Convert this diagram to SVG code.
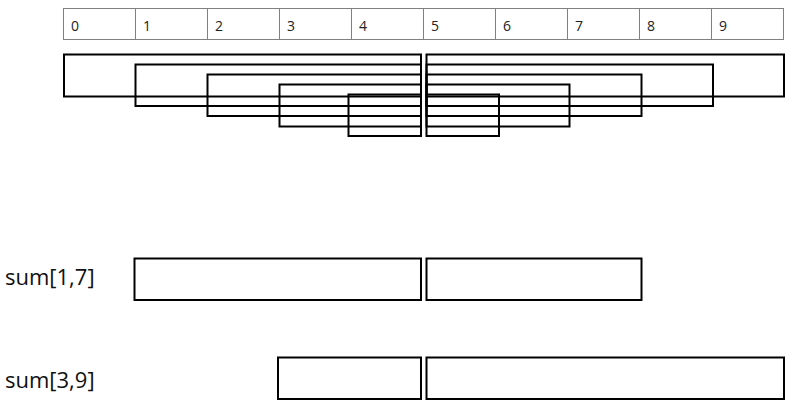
<svg xmlns="http://www.w3.org/2000/svg" width="802" height="408" viewBox="0 0 802 408">
<style>
.cell{fill:#fff;stroke:#808080;stroke-width:1}
.idx{font-family:"Open Sans","Liberation Sans",sans-serif;font-size:14px;fill:#222}
.bx{fill:none;stroke:#000;stroke-width:2}
.sb{fill:#fff;stroke:#000;stroke-width:2}
.lbl{font-family:"Open Sans","Liberation Sans",sans-serif;font-size:22px;fill:#111}
</style>
<rect width="802" height="408" fill="#fff"/>
<g id="array">
<rect class="cell" x="63.5" y="8.5" width="72" height="31"/>
<rect class="cell" x="135.5" y="8.5" width="72" height="31"/>
<rect class="cell" x="207.5" y="8.5" width="72" height="31"/>
<rect class="cell" x="279.5" y="8.5" width="72" height="31"/>
<rect class="cell" x="351.5" y="8.5" width="72" height="31"/>
<rect class="cell" x="423.5" y="8.5" width="72" height="31"/>
<rect class="cell" x="495.5" y="8.5" width="72" height="31"/>
<rect class="cell" x="567.5" y="8.5" width="72" height="31"/>
<rect class="cell" x="639.5" y="8.5" width="72" height="31"/>
<rect class="cell" x="711.5" y="8.5" width="72" height="31"/>
<text class="idx" x="71" y="31">0</text>
<text class="idx" x="143" y="31">1</text>
<text class="idx" x="215" y="31">2</text>
<text class="idx" x="287" y="31">3</text>
<text class="idx" x="359" y="31">4</text>
<text class="idx" x="431" y="31">5</text>
<text class="idx" x="503" y="31">6</text>
<text class="idx" x="575" y="31">7</text>
<text class="idx" x="647" y="31">8</text>
<text class="idx" x="719" y="31">9</text>
</g>
<g id="left-blocks">
<rect class="bx" x="64" y="54.5" width="357" height="42"/>
<rect class="bx" x="135.5" y="64.5" width="285.5" height="41.5"/>
<rect class="bx" x="207.5" y="74.5" width="213.5" height="41.5"/>
<rect class="bx" x="279.5" y="84.5" width="141.5" height="42"/>
<rect class="bx" x="348.5" y="94.5" width="72.5" height="41.5"/>
</g>
<g id="right-blocks">
<rect class="bx" x="426.5" y="54.5" width="357.5" height="42"/>
<rect class="bx" x="426.5" y="64.5" width="286.5" height="41.5"/>
<rect class="bx" x="426.5" y="74.5" width="215" height="41.5"/>
<rect class="bx" x="426.5" y="84.5" width="143" height="42"/>
<rect class="bx" x="426.5" y="94.5" width="72.5" height="41.5"/>
</g>
<g id="sum17">
<text class="lbl" x="5" y="285">sum[1,7]</text>
<rect class="sb" x="134.5" y="258.5" width="286.5" height="41.5"/>
<rect class="sb" x="426.5" y="258.5" width="215" height="41.5"/>
</g>
<g id="sum39">
<text class="lbl" x="5" y="388">sum[3,9]</text>
<rect class="sb" x="278" y="357.5" width="143" height="41.5"/>
<rect class="sb" x="426.5" y="357.5" width="357.5" height="41.5"/>
</g>
</svg>
